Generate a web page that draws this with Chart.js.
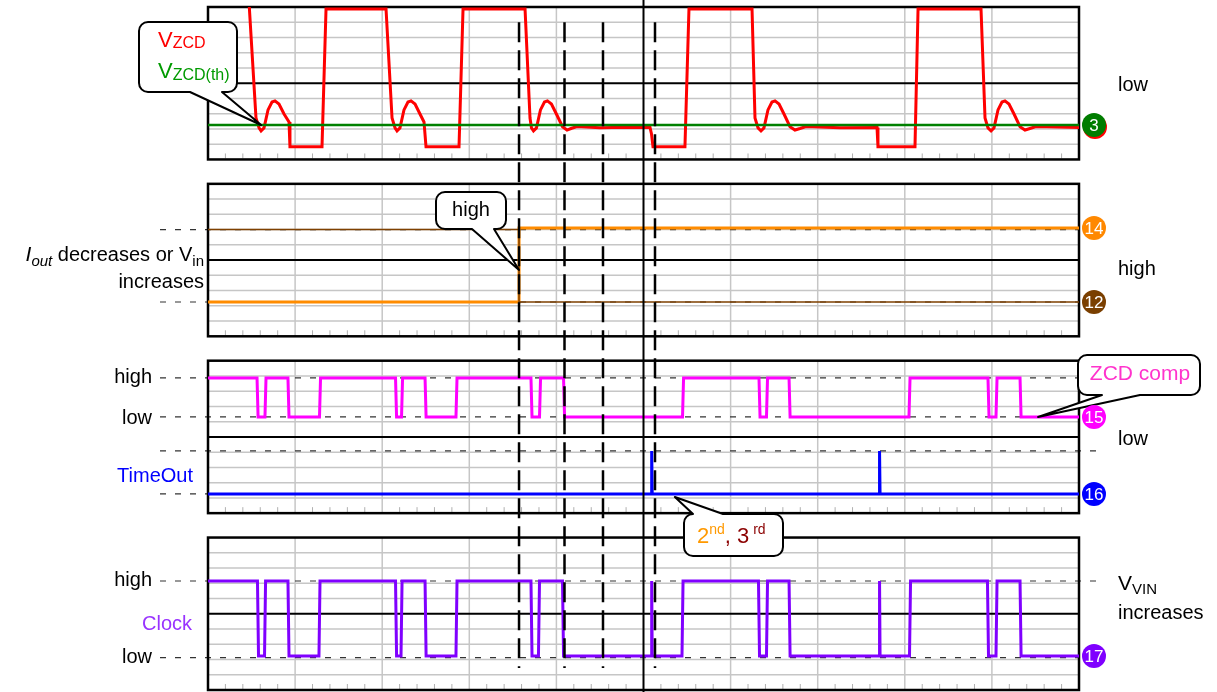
<!DOCTYPE html>
<html>
<head>
<meta charset="utf-8">
<title>ZCD / TimeOut / Clock</title>
<script src="https://cdn.jsdelivr.net/npm/chart.js@4.4.1/dist/chart.umd.min.js"></script>
<style>
  body { margin: 0; background: #fff; }
  #scope { display: block; }
</style>
</head>
<body>
<canvas id="scope" width="1217" height="692"></canvas>
<script>
// time is in scope divisions (10 across the screen)
// levels are in divisions above the bottom of their own panel (10 per panel)

// ch3 - V_ZCD (red) and its threshold (green)
let vzcdTime = [0.471, 0.551, 0.586, 0.609, 0.643, 0.689, 0.735, 0.769, 0.815, 0.873, 0.930, 0.941, 1.309, 1.355,
  2.044, 2.113, 2.147, 2.170, 2.204, 2.250, 2.296, 2.331, 2.377, 2.434, 2.480, 2.503, 2.882, 2.928,
  3.640, 3.697, 3.714, 3.737, 3.771, 3.817, 3.863, 3.897, 3.943, 4.000, 4.070, 4.122, 4.168, 4.236, 4.500, 4.787, 5.075, 5.092, 5.109, 5.476, 5.522,
  6.246, 6.280, 6.315, 6.349, 6.383, 6.429, 6.475, 6.510, 6.556, 6.613, 6.682, 6.739, 6.797, 6.866, 7.256, 7.681, 7.692, 8.117, 8.152,
  8.875, 8.921, 8.955, 8.990, 9.024, 9.070, 9.116, 9.150, 9.196, 9.254, 9.323, 9.380, 9.437, 9.506, 10]
let vzcdLevel = [10.3, 2.72, 2.07, 1.87, 2.07, 3.25, 3.77, 3.84, 3.64, 2.98, 2.46, 0.84, 0.84, 9.87,
  9.87, 2.72, 2.07, 1.87, 2.07, 3.25, 3.77, 3.84, 3.64, 2.98, 2.46, 0.84, 0.84, 9.87,
  9.87, 2.72, 2.07, 1.87, 2.07, 3.25, 3.77, 3.84, 3.64, 2.98, 2.15, 1.93, 2.03, 2.16, 2.08, 2.12, 2.10, 1.67, 0.84, 0.84, 9.87,
  9.87, 2.72, 2.07, 1.87, 2.07, 3.25, 3.77, 3.84, 3.64, 2.98, 2.15, 1.93, 2.03, 2.16, 2.08, 2.10, 0.84, 0.84, 9.87,
  9.87, 2.72, 2.07, 1.87, 2.07, 3.25, 3.77, 3.84, 3.64, 2.98, 2.15, 1.93, 2.03, 2.16, 2.10]
let vzcdThreshold = 2.26

// ch14 (orange) / ch12 (brown) swap when Iout drops
let switchTime = 3.571
let ch14Levels = [2.25, 7.1]
let ch12Levels = [7.0, 2.25]

// ch15 - ZCD comp, starts high
let zcdEdges = [0.563, 0.654, 0.918, 1.280, 2.153, 2.222, 2.492, 2.847, 3.708, 3.806, 4.082,
  5.448, 6.326, 6.412, 6.671, 8.048, 8.955, 9.047, 9.323]
let zcdHigh = 8.87
let zcdLow = 6.31

// ch16 - TimeOut pulses
let timeoutSpikes = [5.094, 7.710]
let timeoutHigh = 4.08
let timeoutLow = 1.26

// ch17 - Clock, starts high
let clockEdges = [0.568, 0.649, 0.918, 1.274, 2.153, 2.216, 2.492, 2.847, 3.708, 3.794, 4.070,
  5.442, 6.320, 6.412, 6.671, 8.054, 8.949, 9.047, 9.323]
let clockSpikes = [5.094, 7.710]
let clockHigh = 7.15
let clockLow = 2.23

// dashed time cursors
let cursorTimes = [3.571, 4.093, 4.535, 5.132]

// bottom of each panel on the shared y scale (panel = 10 div, gap = 1.6 div)
const panelBase = [34.8, 23.2, 11.6, 0]
const FONT = "'Liberation Sans', Arial, Helvetica, sans-serif"


function onPanel(points, panel) {
  return points.map(p => ({x: p.x, y: p.y + panelBase[panel]}))
}

function stepTrace(edges, spikes, hi, lo, startHigh) {
  let events = edges.map(t => ({t: t, spike: false}))
    .concat(spikes.map(t => ({t: t, spike: true})))
    .sort((a, b) => a.t - b.t)
  let level = startHigh ? hi : lo
  let pts = [{x: 0, y: level}]
  events.forEach(e => {
    if (e.spike) {
      pts.push({x: e.t, y: level}, {x: e.t, y: hi}, {x: e.t + 0.006, y: level})
    } else {
      pts.push({x: e.t, y: level})
      level = (level === hi) ? lo : hi
      pts.push({x: e.t + 0.012, y: level})
    }
  })
  pts.push({x: 10, y: level})
  return pts
}

let vzcdPoints = vzcdTime.map((t, i) => ({x: t, y: vzcdLevel[i]}))
let thresholdPoints = [{x: 0, y: vzcdThreshold}, {x: 10, y: vzcdThreshold}]
let ch14Points = [{x: 0, y: ch14Levels[0]}, {x: switchTime, y: ch14Levels[0]}, {x: switchTime, y: ch14Levels[1]}, {x: 10, y: ch14Levels[1]}]
let ch12Points = [{x: 0, y: ch12Levels[0]}, {x: switchTime, y: ch12Levels[0]}, {x: switchTime, y: ch12Levels[1]}, {x: 10, y: ch12Levels[1]}]
let zcdPoints = stepTrace(zcdEdges, [], zcdHigh, zcdLow, true)
let timeoutPoints = stepTrace([], timeoutSpikes, timeoutHigh, timeoutLow, false)
let clockPoints = stepTrace(clockEdges, clockSpikes, clockHigh, clockLow, true)

// dashed reference levels drawn inside each panel, and how far right they run
let refLevels = [
  {panel: 1, level: ch12Levels[0], right: 0},
  {panel: 1, level: ch14Levels[0], right: 0},
  {panel: 2, level: zcdHigh, right: 0},
  {panel: 2, level: zcdLow, right: 0},
  {panel: 2, level: timeoutHigh, right: 22},
  {panel: 2, level: timeoutLow, right: 0},
  {panel: 3, level: clockHigh, right: 22},
  {panel: 3, level: clockLow - 0.1, right: 0}
]

function seg(ctx, x1, y1, x2, y2) {
  ctx.beginPath()
  ctx.moveTo(x1, y1)
  ctx.lineTo(x2, y2)
  ctx.stroke()
}

function font(size, italic) {
  return (italic ? 'italic ' : '') + size + 'px ' + FONT
}

// draws a row of text pieces (for sub / superscripts) on one baseline
function drawParts(ctx, parts, x, y, align) {
  let widths = parts.map(p => { ctx.font = font(p.size || 20, p.italic); return ctx.measureText(p.text).width })
  let total = widths.reduce((a, b) => a + b, 0)
  let cx = x
  if (align === 'right') cx = x - total
  if (align === 'center') cx = x - total / 2
  ctx.textAlign = 'left'
  ctx.textBaseline = 'alphabetic'
  parts.forEach((p, i) => {
    ctx.font = font(p.size || 20, p.italic)
    ctx.fillStyle = p.color || '#000'
    ctx.fillText(p.text, cx, y + (p.dy || 0))
    cx += widths[i]
  })
}

const scopeGrid = {
  id: 'scopeGrid',
  beforeDatasetsDraw(chart) {
    const ctx = chart.ctx
    const x = chart.scales.x, y = chart.scales.y
    const left = x.getPixelForValue(0), right = x.getPixelForValue(10)
    ctx.save()
    panelBase.forEach(base => {
      const top = y.getPixelForValue(base + 10), bottom = y.getPixelForValue(base)
      ctx.strokeStyle = '#c6c6c6'
      ctx.lineWidth = 1.5
      for (let i = 1; i < 10; i++) {
        if (i === 5) continue
        let py = y.getPixelForValue(base + i)
        seg(ctx, left, py, right, py)
        let px = x.getPixelForValue(i)
        seg(ctx, px, top, px, bottom)
      }
      // minor ticks on the bottom edge
      ctx.strokeStyle = '#b0b0b0'
      ctx.lineWidth = 1
      for (let k = 1; k < 50; k++) {
        if (k % 5 === 0) continue
        let px = x.getPixelForValue(k / 5)
        seg(ctx, px, bottom - 6, px, bottom - 1)
      }
      ctx.strokeStyle = '#000'
      ctx.lineWidth = 2
      let mid = y.getPixelForValue(base + 5)
      seg(ctx, left, mid, right, mid)
    })

    // dashed "high / low" reference levels
    ctx.strokeStyle = '#333'
    ctx.lineWidth = 1.2
    ctx.setLineDash([6, 9])
    refLevels.forEach(r => {
      let py = y.getPixelForValue(panelBase[r.panel] + r.level)
      seg(ctx, 160, py, right + r.right, py)
    })
    ctx.setLineDash([])

    ctx.strokeStyle = '#000'
    ctx.lineWidth = 2.5
    panelBase.forEach(base => {
      const top = y.getPixelForValue(base + 10), bottom = y.getPixelForValue(base)
      ctx.strokeRect(left, top, right - left, bottom - top)
    })
    ctx.restore()
  }
}

function calloutPath(ctx, b) {
  let r = 9, x0 = b.x, y0 = b.y, x1 = b.x + b.w, y1 = b.y + b.h
  ctx.beginPath()
  ctx.moveTo(x0 + r, y0)
  if (b.side === 'top') {
    ctx.lineTo(b.base[0], y0)
    ctx.lineTo(b.tip[0], b.tip[1])
    ctx.lineTo(b.base[1], y0)
  }
  ctx.lineTo(x1 - r, y0)
  ctx.arcTo(x1, y0, x1, y0 + r, r)
  ctx.lineTo(x1, y1 - r)
  ctx.arcTo(x1, y1, x1 - r, y1, r)
  if (b.side === 'bottom') {
    ctx.lineTo(b.base[1], y1)
    ctx.lineTo(b.tip[0], b.tip[1])
    ctx.lineTo(b.base[0], y1)
  }
  ctx.lineTo(x0 + r, y1)
  ctx.arcTo(x0, y1, x0, y1 - r, r)
  ctx.lineTo(x0, y0 + r)
  ctx.arcTo(x0, y0, x0 + r, y0, r)
  ctx.closePath()
}

const overlay = {
  id: 'overlay',
  afterDatasetsDraw(chart) {
    const ctx = chart.ctx
    const x = chart.scales.x, y = chart.scales.y
    const area = chart.chartArea
    ctx.save()

    // time cursors
    ctx.strokeStyle = '#000'
    ctx.lineWidth = 2.5
    ctx.setLineDash([20, 8])
    cursorTimes.forEach(t => {
      let px = x.getPixelForValue(t)
      seg(ctx, px, y.getPixelForValue(panelBase[0] + 9), px, y.getPixelForValue(1.45))
    })
    ctx.setLineDash([])
    ctx.lineWidth = 2
    let cx = x.getPixelForValue(5)
    seg(ctx, cx, 0, cx, chart.height)

    // callout boxes
    let callouts = [
      {x: 139, y: 22, w: 98, h: 70, side: 'bottom', base: [190, 222],
        tip: [x.getPixelForValue(0.61), y.getPixelForValue(panelBase[0] + vzcdThreshold)]},
      {x: 436, y: 192, w: 70, h: 37, side: 'bottom', base: [472, 494],
        tip: [x.getPixelForValue(switchTime), y.getPixelForValue(panelBase[1] + 4.35)]},
      {x: 1078, y: 355, w: 122, h: 40, side: 'bottom', base: [1102, 1140],
        tip: [x.getPixelForValue(9.53), y.getPixelForValue(panelBase[2] + zcdLow)]},
      {x: 684, y: 514, w: 99, h: 42, side: 'top', base: [693, 723],
        tip: [x.getPixelForValue(5.36), y.getPixelForValue(panelBase[2] + 1.06)]}
    ]
    callouts.forEach(b => {
      calloutPath(ctx, b)
      ctx.fillStyle = '#fff'
      ctx.fill()
      ctx.strokeStyle = '#000'
      ctx.lineWidth = 2
      ctx.lineJoin = 'round'
      ctx.stroke()
    })

    drawParts(ctx, [{text: 'V', color: '#ff0000', size: 22}, {text: 'ZCD', color: '#ff0000', size: 16, dy: 1}], 158, 47, 'left')
    drawParts(ctx, [{text: 'V', color: '#009a00', size: 22}, {text: 'ZCD(th)', color: '#009a00', size: 16, dy: 2}], 158, 78, 'left')
    drawParts(ctx, [{text: 'high'}], 471, 216, 'center')
    drawParts(ctx, [{text: 'ZCD comp', color: '#ff33cc', size: 21}], 1140, 380, 'center')
    drawParts(ctx, [
      {text: '2', color: '#ff9900', size: 22},
      {text: 'nd', color: '#ff9900', size: 14, dy: -9},
      {text: ', ', color: '#8b0000', size: 22},
      {text: '3', color: '#8b0000', size: 22},
      {text: ' rd', color: '#8b0000', size: 14, dy: -9}
    ], 697, 543, 'left')

    // channel markers at the right edge
    let markers = [
      {label: '3', color: '#007d00', shadow: '#ff0000', panel: 0, level: vzcdThreshold},
      {label: '14', color: '#ff8800', panel: 1, level: ch14Levels[1]},
      {label: '12', color: '#7a3f00', panel: 1, level: ch12Levels[1]},
      {label: '15', color: '#ff00ff', panel: 2, level: zcdLow},
      {label: '16', color: '#0000ff', panel: 2, level: timeoutLow},
      {label: '17', color: '#7f00ff', panel: 3, level: clockLow}
    ]
    markers.forEach(m => {
      let mx = area.right + 15, my = y.getPixelForValue(panelBase[m.panel] + m.level)
      if (m.shadow) {
        ctx.fillStyle = m.shadow
        ctx.beginPath(); ctx.arc(mx + 1, my + 2, 12, 0, Math.PI * 2); ctx.fill()
      }
      ctx.fillStyle = m.color
      ctx.beginPath(); ctx.arc(mx, my, 12, 0, Math.PI * 2); ctx.fill()
      ctx.fillStyle = '#fff'
      ctx.font = font(17)
      ctx.textAlign = 'center'
      ctx.textBaseline = 'middle'
      ctx.fillText(m.label, mx, my + 1)
    })

    // side labels
    drawParts(ctx, [{text: 'I', italic: true, size: 21}, {text: 'out', italic: true, size: 15, dy: 5},
      {text: ' decreases or V'}, {text: 'in', size: 15, dy: 5}], 204, 261, 'right')
    drawParts(ctx, [{text: 'increases'}], 204, 288, 'right')
    drawParts(ctx, [{text: 'high'}], 152, 383, 'right')
    drawParts(ctx, [{text: 'low'}], 152, 424, 'right')
    drawParts(ctx, [{text: 'TimeOut', color: '#0000ff'}], 193, 482, 'right')
    drawParts(ctx, [{text: 'high'}], 152, 586, 'right')
    drawParts(ctx, [{text: 'Clock', color: '#9933ff'}], 192, 630, 'right')
    drawParts(ctx, [{text: 'low'}], 152, 663, 'right')

    drawParts(ctx, [{text: 'low'}], 1118, 91, 'left')
    drawParts(ctx, [{text: 'high'}], 1118, 275, 'left')
    drawParts(ctx, [{text: 'low'}], 1118, 445, 'left')
    drawParts(ctx, [{text: 'V', size: 21}, {text: 'VIN', size: 15, dy: 4}], 1118, 590, 'left')
    drawParts(ctx, [{text: 'increases'}], 1118, 619, 'left')
    ctx.restore()
  }
}

let scopeData = {
  datasets: [
    {label: 'VZCD(th)', data: onPanel(thresholdPoints, 0), borderColor: '#008000', borderWidth: 2.5, order: 0},
    {label: 'VZCD', data: onPanel(vzcdPoints, 0), borderColor: '#ff0000', borderWidth: 3, order: 1},
    {label: 'ch12', data: onPanel(ch12Points, 1), borderColor: '#7f4000', borderWidth: 1.5, order: 2},
    {label: 'ch14', data: onPanel(ch14Points, 1), borderColor: '#ff8c00', borderWidth: 3, order: 3},
    {label: 'ZCD comp', data: onPanel(zcdPoints, 2), borderColor: '#ff00ff', borderWidth: 3, order: 4},
    {label: 'TimeOut', data: onPanel(timeoutPoints, 2), borderColor: '#0000ff', borderWidth: 3, order: 5},
    {label: 'Clock', data: onPanel(clockPoints, 3), borderColor: '#8000ff', borderWidth: 3, order: 6}
  ]
}

let scopeOptions = {
  responsive: false,
  animation: false,
  devicePixelRatio: 1,
  layout: {padding: {left: 208, right: 138, top: 7, bottom: 2}},
  scales: {
    x: {type: 'linear', min: 0, max: 10, display: false},
    y: {type: 'linear', min: 0, max: 44.8, display: false}
  },
  elements: {point: {radius: 0}, line: {tension: 0, fill: false}},
  plugins: {legend: {display: false}, tooltip: {enabled: false}}
}

new Chart(document.getElementById('scope').getContext('2d'), {
  type: 'line',
  data: scopeData,
  options: scopeOptions,
  plugins: [scopeGrid, overlay]
})
</script>
</body>
</html>
